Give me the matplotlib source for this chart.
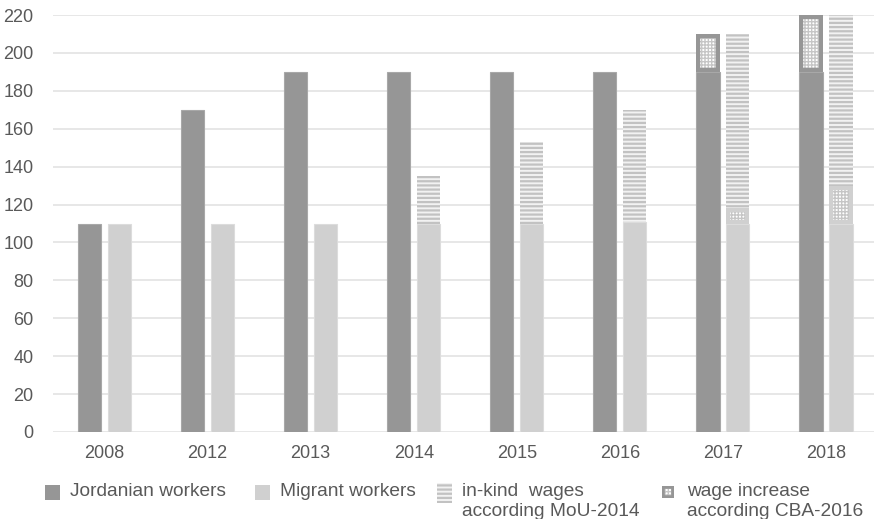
import matplotlib
matplotlib.use("Agg")
import matplotlib.pyplot as plt
from matplotlib.patches import Rectangle
import numpy as np

plt.rcParams['font.family'] = ['Liberation Sans', 'DejaVu Sans']

years = ['2008', '2012', '2013', '2014', '2015', '2016', '2017', '2018']
jordanian = [110, 170, 190, 190, 190, 190, 190, 190]
jordanian_increase = [0, 0, 0, 0, 0, 0, 20, 30]
migrant = [110, 110, 110, 110, 110, 111, 110, 110]
migrant_increase = [0, 0, 0, 0, 0, 0, 8, 20]
in_kind = [0, 0, 0, 25, 43, 59, 92, 90]
y_ticks = list(range(0, 221, 20))

DARK = '#969696'
LIGHT = '#d0d0d0'
STRIPE = '#c2c2c2'
DOT = '#c6c6c6'
TEXT = '#595959'
GRID = '#e3e3e3'
TICK_FS = 13
LEG_FS = 13.8

fig = plt.figure(figsize=(8.74, 5.19), dpi=100)
ax = fig.add_axes([53 / 874, 1 - 432 / 519, 1 - 53 / 874 + 0.004, (432 - 15) / 519])

x = np.arange(len(years))
w = 0.225
off = 0.145


def hatch_lw(bars, lw):
    for b in bars:
        if hasattr(b, 'set_hatch_linewidth'):
            b.set_hatch_linewidth(lw)


def increase_bars(xpos, heights, bottoms, color):
    xs = [xi for xi, h in zip(xpos, heights) if h > 0]
    hs = [h for h in heights if h > 0]
    bs = [b for b, h in zip(bottoms, heights) if h > 0]
    inner = ax.bar(xs, hs, bottom=bs, width=w, facecolor='white',
                   edgecolor=DOT, hatch='+++++', linewidth=0, zorder=3)
    hatch_lw(inner, 1.0)
    frame = ax.bar(xs, hs, bottom=bs, width=w, fill=False,
                   edgecolor=color, linewidth=6, zorder=4)
    for p in frame:
        p.set_clip_path(p)


# Jordanian workers
ax.bar(x - off, jordanian, width=w, color=DARK, edgecolor='#a8a8a8',
       linewidth=0.8, zorder=2)
increase_bars(x - off, jordanian_increase, jordanian, DARK)

# Migrant workers
ax.bar(x + off, migrant, width=w, color=LIGHT, edgecolor='#dcdcdc',
       linewidth=0.8, zorder=2)
increase_bars(x + off, migrant_increase, migrant, LIGHT)

# in-kind wages stacked on top
kind_bottom = [m + i for m, i in zip(migrant, migrant_increase)]
xs = [xi for xi, h in zip(x + off, in_kind) if h > 0]
ks = [h for h in in_kind if h > 0]
kb = [b for b, h in zip(kind_bottom, in_kind) if h > 0]
stripes = ax.bar(xs, ks, bottom=kb, width=w, facecolor='#f2f2f2',
                 edgecolor=STRIPE, hatch='----', linewidth=0, zorder=2)
hatch_lw(stripes, 1.6)

ax.set_xlim(-0.5, len(years) - 0.5)
ax.set_ylim(0, 220)
ax.set_yticks(y_ticks)
ax.set_xticks(x)
ax.set_xticklabels(years)
ax.yaxis.grid(True, color=GRID, linewidth=1.2, zorder=0)
ax.set_axisbelow(True)
for s in ax.spines.values():
    s.set_visible(False)
ax.tick_params(axis='both', length=0, labelsize=TICK_FS, labelcolor=TEXT)
ax.tick_params(axis='y', pad=14)
ax.tick_params(axis='x', pad=9)
for t in ax.get_yticklabels():
    t.set_clip_on(False)

# Legend
def fx(px):
    return px / 874


def fy(py):
    return 1 - py / 519


ROW1 = 492
ROW2 = 512
sq = 15
fig.add_artist(Rectangle((fx(45), fy(ROW1 + 8)), sq / 874, sq / 519,
                         transform=fig.transFigure, facecolor=DARK,
                         edgecolor='none'))
fig.text(fx(70), fy(ROW1), 'Jordanian workers', fontsize=LEG_FS, color=TEXT,
         va='center', ha='left')
fig.add_artist(Rectangle((fx(255), fy(ROW1 + 8)), sq / 874, sq / 519,
                         transform=fig.transFigure, facecolor=LIGHT,
                         edgecolor='none'))
fig.text(fx(280), fy(ROW1), 'Migrant workers', fontsize=LEG_FS, color=TEXT,
         va='center', ha='left')
leg_stripe = Rectangle((fx(437), fy(ROW1 + 11)), sq / 874, 20 / 519,
                       transform=fig.transFigure, facecolor='#f2f2f2',
                       edgecolor=STRIPE, hatch='----', linewidth=0)
hatch_lw([leg_stripe], 1.6)
fig.add_artist(leg_stripe)
fig.text(fx(462), fy(ROW1), 'in-kind  wages', fontsize=LEG_FS, color=TEXT,
         va='center', ha='left')
fig.text(fx(462), fy(ROW2), 'according MoU-2014', fontsize=LEG_FS, color=TEXT,
         va='center', ha='left')
leg_dot = Rectangle((fx(662), fy(ROW1 + 6)), 12 / 874, 12 / 519,
                    transform=fig.transFigure, facecolor='white',
                    edgecolor=DOT, hatch='+++++', linewidth=0)
hatch_lw([leg_dot], 1.0)
fig.add_artist(leg_dot)
leg_frame = Rectangle((fx(662), fy(ROW1 + 6)), 12 / 874, 12 / 519,
                      transform=fig.transFigure, fill=False,
                      edgecolor=DARK, linewidth=4)
fig.add_artist(leg_frame)
leg_frame.set_clip_path(leg_frame)
fig.text(fx(687), fy(ROW1), 'wage increase', fontsize=LEG_FS, color=TEXT,
         va='center', ha='left')
fig.text(fx(687), fy(ROW2), 'according CBA-2016', fontsize=LEG_FS, color=TEXT,
         va='center', ha='left')

fig.savefig('out.png', dpi=100)
